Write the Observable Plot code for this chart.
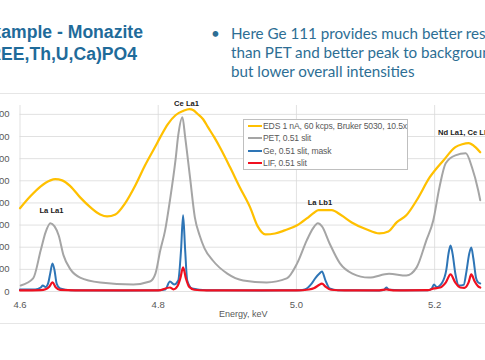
<!DOCTYPE html>
<html><head><meta charset="utf-8">
<script src="https://cdn.jsdelivr.net/npm/d3@7"></script>
<script src="https://cdn.jsdelivr.net/npm/@observablehq/plot@0.6"></script>
<style>
html,body{margin:0;padding:0;background:#fff;}
#page{position:relative;width:485px;height:360px;overflow:hidden;background:#fff;}
.title{position:absolute;white-space:nowrap;font-family:"Liberation Sans",Arial,sans-serif;font-weight:bold;font-size:17.6px;color:#1f6b9a;line-height:22px;text-align:right;}
#bullet{position:absolute;left:231px;top:23.5px;white-space:nowrap;font-family:Lato,"Liberation Sans",sans-serif;font-size:15.2px;line-height:19px;color:#2d6e94;}
#dot{position:absolute;left:211px;top:23.5px;font-family:Lato,sans-serif;font-size:15.2px;line-height:19px;color:#2d6e94;}
#chart{position:absolute;left:-20px;top:0;}
.border{position:absolute;left:0;width:485px;height:1px;background:#e6e6e6;}
#legend{position:absolute;left:243px;top:119px;width:163px;height:49px;border:1px solid #bfbfbf;background:#fff;font-family:"Liberation Sans",Arial,sans-serif;font-size:8.6px;letter-spacing:-0.15px;color:#595959;}
.row{position:relative;height:12.3px;line-height:12.3px;white-space:nowrap;}
.sw{position:absolute;left:4px;top:5px;width:14px;height:2px;}
.lt{position:absolute;left:19px;top:0;}
</style></head><body>
<div id="page">
  <div class="border" style="top:93px"></div>
  <div class="border" style="top:323px"></div>
  <div class="title" style="right:342px;top:21px">Example - Monazite</div>
  <div class="title" style="right:348px;top:43px">(REE,Th,U,Ca)PO4</div>
  <div id="dot">•</div>
  <div id="bullet">Here Ge 111 provides much better resolution<br>than PET and better peak to background<br>but lower overall intensities</div>
  <div id="chart"></div>
  <div id="legend"></div>
</div>
<script>
// ---- data ----
const seriesNames = ["EDS 1 nA, 60 kcps, Bruker 5030, 10.5x", "PET, 0.51 slit", "Ge, 0.51 slit, mask", "LIF, 0.51 slit"];
const seriesColors = ["#ffc000", "#a5a5a5", "#2e75b6", "#f01020"];

const edsEnergy = [4.600,4.615,4.630,4.644,4.651,4.661,4.673,4.687,4.702,4.716,4.726,4.738,4.752,4.767,4.781,4.796,4.803,4.814,4.825,4.836,4.845,4.851,4.856,4.865,4.872,4.881,4.890,4.904,4.918,4.933,4.944,4.955,4.969,4.983,5.001,5.015,5.026,5.032,5.051,5.065,5.080,5.101,5.120,5.133,5.145,5.159,5.174,5.193,5.213,5.230,5.240,5.249,5.259,5.266];
const edsCounts = [376,430,475,502,507,502,475,425,380,348,339,348,398,480,570,656,697,756,796,815,824,819,805,778,742,697,647,561,471,380,294,258,262,276,299,330,357,367,367,344,312,281,262,271,312,344,412,516,593,652,665,670,652,629];

const petEnergy = [4.601,4.619,4.630,4.637,4.644,4.650,4.656,4.663,4.673,4.687,4.716,4.764,4.788,4.796,4.803,4.810,4.817,4.825,4.829,4.835,4.839,4.846,4.853,4.860,4.867,4.879,4.900,4.923,4.957,4.986,5.001,5.015,5.024,5.031,5.037,5.048,5.063,5.081,5.105,5.134,5.159,5.174,5.188,5.198,5.207,5.216,5.230,5.245,5.254,5.263,5.266];
const petCounts = [27,59,186,267,308,294,253,163,100,63,41,32,45,81,186,276,412,593,706,787,697,516,335,253,195,140,81,50,41,59,127,231,285,308,294,217,127,81,63,80,72,109,231,321,471,579,615,624,561,457,412];

const geEnergy = [4.600,4.622,4.630,4.633,4.637,4.641,4.644,4.647,4.650,4.653,4.658,4.673,4.750,4.800,4.810,4.817,4.823,4.829,4.833,4.836,4.839,4.842,4.849,4.870,4.950,5.005,5.012,5.022,5.028,5.033,5.037,5.042,5.048,5.060,5.120,5.127,5.130,5.134,5.150,5.190,5.196,5.199,5.203,5.211,5.217,5.220,5.223,5.226,5.230,5.235,5.242,5.246,5.250,5.253,5.256,5.260,5.263,5.266];
const geCounts = [9,9,18,27,20,40,86,127,95,36,14,6,5,6,9,45,32,50,186,344,186,50,14,6,5,6,9,36,63,80,90,50,14,6,5,8,18,8,6,6,14,32,20,41,100,170,208,170,80,27,30,90,170,199,150,60,41,36];

const lifEnergy = [4.600,4.630,4.637,4.642,4.647,4.652,4.658,4.680,4.800,4.817,4.822,4.828,4.832,4.836,4.840,4.845,4.852,4.870,5.000,5.018,5.026,5.032,5.037,5.042,5.050,5.070,5.120,5.130,5.140,5.190,5.199,5.208,5.216,5.223,5.230,5.237,5.243,5.249,5.253,5.258,5.263,5.266];
const lifCounts = [5,6,10,20,41,18,7,5,5,18,10,25,60,109,60,20,8,5,5,9,16,28,36,22,8,5,5,9,5,6,14,18,40,77,40,18,16,40,77,45,23,18];

const peakNames = ["La La1", "Ce La1", "La Lb1", "Nd La1, Ce Lb1"];
const peakEnergy = [4.6455, 4.841, 5.034, 5.2048];
const peakCounts = [366, 849, 402, 718];

const xTicks = [4.6, 4.8, 5.0, 5.2];
const yTicks = [0, 100, 200, 300, 400, 500, 600, 700, 800];

// ---- build tables ----
const toRows = (e, c) => e.map((x, i) => ({energy: x, counts: c[i]}));
const eds = toRows(edsEnergy, edsCounts);
const pet = toRows(petEnergy, petCounts);
const ge = toRows(geEnergy, geCounts);
const lif = toRows(lifEnergy, lifCounts);
const peaks = peakNames.map((n, i) => ({name: n, energy: peakEnergy[i], counts: peakCounts[i]}));

const lineOpts = (color, w) => ({x: "energy", y: "counts", stroke: color, strokeWidth: w, curve: "monotone-x", strokeLinejoin: "round"});
const grid = "#d9d9d9";

const chart = Plot.plot({
  width: 505, height: 330,
  marginLeft: 39.5, marginRight: 0, marginTop: 105, marginBottom: 39,
  x: {domain: [4.6, 5.2736], ticks: xTicks, tickFormat: d3.format(".1f"), tickSize: 0, tickPadding: 10, label: null},
  y: {domain: [0, 840], ticks: yTicks, tickSize: 0, tickPadding: 10.5, label: null},
  style: {background: "transparent", fontFamily: "'Liberation Sans', Arial, sans-serif", fontSize: "9.5px", color: "#595959", overflow: "visible"},
  marks: [
    Plot.ruleX(xTicks, {stroke: grid, strokeWidth: 0.8}),
    Plot.ruleY(yTicks, {stroke: grid, strokeWidth: 0.8}),
    Plot.line(eds, lineOpts(seriesColors[0], 2.25)),
    Plot.line(pet, lineOpts(seriesColors[1], 2)),
    Plot.line(ge, lineOpts(seriesColors[2], 2)),
    Plot.line(lif, lineOpts(seriesColors[3], 2.2)),
    Plot.text(peaks.slice(0, 3), {x: "energy", y: "counts", text: "name", fill: "#1a1a1a", fontWeight: "bold", fontSize: 7.6, textAnchor: "middle"}),
    Plot.text(peaks.slice(3), {x: "energy", y: "counts", text: "name", fill: "#1a1a1a", fontWeight: "bold", fontSize: 7.6, textAnchor: "start"}),
    Plot.text(["Energy, keV"], {text: d => d, frameAnchor: "bottom", dy: 25, dx: -9.5, fontSize: 9, fill: "#595959"})
  ]
});
document.getElementById("chart").appendChild(chart);

// ---- legend ----
const legend = document.getElementById("legend");
seriesNames.forEach((name, i) => {
  const row = document.createElement("div");
  row.className = "row";
  const sw = document.createElement("div");
  sw.className = "sw";
  sw.style.background = seriesColors[i];
  const t = document.createElement("div");
  t.className = "lt";
  t.textContent = name;
  row.appendChild(sw); row.appendChild(t);
  legend.appendChild(row);
});
</script>
</body></html>
